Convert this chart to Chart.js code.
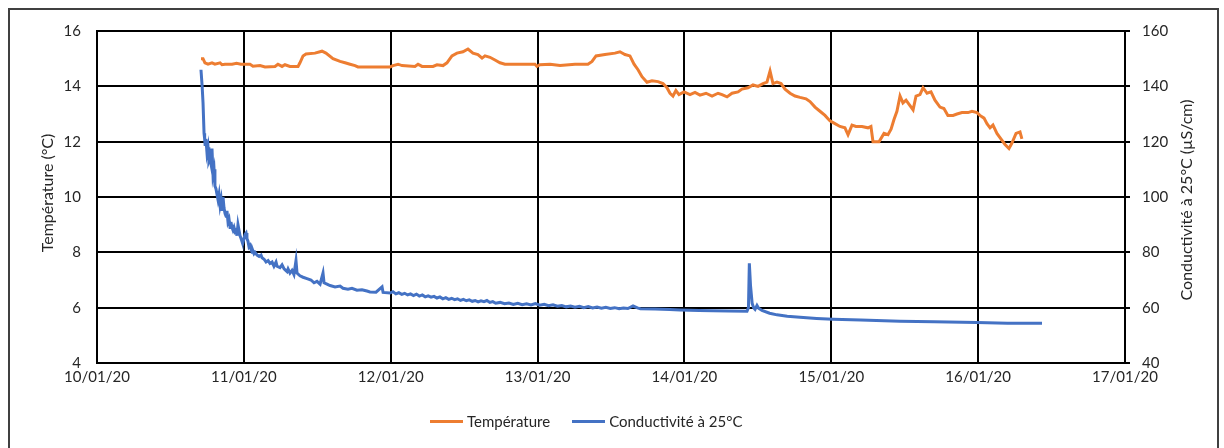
<!DOCTYPE html>
<html>
<head>
<meta charset="utf-8">
<script src="https://cdn.jsdelivr.net/npm/chart.js@4.4.1/dist/chart.umd.min.js"></script>
<style>
  html, body { margin: 0; padding: 0; background: #fff; width: 1224px; height: 448px; overflow: hidden; }
  #frame { position: absolute; left: 8px; top: 8px; width: 1207px; height: 500px; border: 2px solid #404040; box-sizing: content-box; }
  #c { position: absolute; left: 0; top: 0; }
  #legend { position: absolute; top: 412px; left: 430px; display: flex; align-items: center; font-family: Lato, "Open Sans", sans-serif; font-size: 15px; color: #262626; white-space: nowrap; }
  .item { display: flex; align-items: center; margin-right: 22px; }
  .swatch { width: 33px; height: 3px; margin-right: 4px; }
</style>
</head>
<body>
<div id="frame"></div>
<canvas id="c" width="1224" height="448"></canvas>
<div id="legend"></div>
<script>
// ---- data (x in days since 10/01/20) ----
const dateLabels = ['10/01/20','11/01/20','12/01/20','13/01/20','14/01/20','15/01/20','16/01/20','17/01/20'];
const leftTicks = [4, 6, 8, 10, 12, 14, 16];
const rightTicks = [40, 60, 80, 100, 120, 140, 160];

const tempDays = [0.708,0.722,0.735,0.756,0.783,0.803,0.838,0.851,0.872,0.920,0.950,0.980,1.042,1.062,1.110,1.144,1.212,1.232,1.260,1.280,1.314,1.369,1.382,1.403,1.423,1.484,1.532,1.559,1.607,1.655,1.689,1.723,1.757,1.777,1.995,2.016,2.050,2.077,2.165,2.186,2.213,2.288,2.315,2.356,2.383,2.417,2.451,2.492,2.526,2.560,2.594,2.622,2.642,2.676,2.710,2.744,2.778,2.982,2.996,3.016,3.085,3.153,3.255,3.343,3.371,3.398,3.459,3.527,3.561,3.595,3.629,3.657,3.684,3.711,3.745,3.779,3.820,3.854,3.881,3.902,3.922,3.942,3.963,3.997,4.038,4.072,4.106,4.147,4.188,4.229,4.256,4.290,4.324,4.365,4.392,4.433,4.467,4.501,4.535,4.562,4.583,4.603,4.630,4.658,4.685,4.719,4.753,4.787,4.828,4.855,4.889,4.923,4.957,4.991,5.025,5.059,5.093,5.114,5.141,5.168,5.209,5.250,5.270,5.284,5.325,5.359,5.386,5.407,5.427,5.447,5.468,5.488,5.509,5.536,5.557,5.577,5.604,5.625,5.652,5.679,5.706,5.740,5.767,5.794,5.829,5.856,5.890,5.931,5.958,5.992,6.012,6.040,6.060,6.081,6.101,6.128,6.155,6.183,6.210,6.230,6.258,6.285,6.298];
const tempValues = [15.0,15.0,14.85,14.8,14.85,14.8,14.85,14.78,14.8,14.8,14.83,14.8,14.8,14.73,14.75,14.7,14.72,14.8,14.72,14.78,14.72,14.72,14.85,15.1,15.17,15.2,15.27,15.2,15.0,14.9,14.85,14.8,14.75,14.7,14.7,14.75,14.8,14.75,14.72,14.8,14.72,14.72,14.78,14.75,14.85,15.1,15.2,15.25,15.35,15.2,15.15,15.02,15.1,15.05,14.95,14.85,14.8,14.8,14.72,14.78,14.8,14.75,14.8,14.8,14.9,15.1,15.15,15.2,15.25,15.15,15.1,14.8,14.6,14.35,14.15,14.2,14.17,14.1,13.95,13.75,13.65,13.85,13.7,13.8,13.7,13.78,13.68,13.75,13.65,13.75,13.7,13.62,13.75,13.8,13.9,13.95,14.05,14.0,14.1,14.15,14.55,14.1,14.15,14.1,13.9,13.75,13.65,13.6,13.55,13.45,13.25,13.1,12.95,12.75,12.65,12.55,12.5,12.25,12.6,12.55,12.55,12.5,12.55,12.0,12.0,12.3,12.25,12.45,12.8,13.1,13.65,13.4,13.5,13.3,13.15,13.65,13.7,13.95,13.75,13.8,13.5,13.25,13.2,12.95,12.95,13.0,13.05,13.05,13.1,13.05,12.95,12.85,12.65,12.5,12.6,12.3,12.1,11.9,11.75,11.95,12.3,12.35,12.1];

const condDays = [0.708,0.716,0.722,0.729,0.733,0.736,0.742,0.749,0.756,0.762,0.769,0.776,0.783,0.790,0.797,0.803,0.810,0.817,0.824,0.831,0.838,0.845,0.851,0.858,0.865,0.872,0.879,0.885,0.892,0.899,0.906,0.912,0.919,0.926,0.933,0.940,0.947,0.953,0.960,0.967,0.974,0.981,0.987,0.994,1.001,1.008,1.015,1.021,1.028,1.035,1.042,1.049,1.056,1.062,1.069,1.076,1.090,1.104,1.117,1.124,1.138,1.151,1.165,1.178,1.192,1.205,1.219,1.226,1.246,1.260,1.274,1.294,1.301,1.314,1.328,1.341,1.355,1.362,1.382,1.403,1.430,1.457,1.478,1.498,1.519,1.539,1.546,1.566,1.587,1.621,1.655,1.675,1.709,1.736,1.770,1.804,1.838,1.859,1.900,1.941,1.948,1.995,2.015,2.035,2.055,2.075,2.095,2.115,2.135,2.155,2.175,2.195,2.215,2.235,2.255,2.275,2.295,2.315,2.335,2.355,2.375,2.395,2.415,2.435,2.455,2.475,2.495,2.515,2.535,2.555,2.575,2.595,2.615,2.635,2.655,2.675,2.695,2.715,2.745,2.775,2.805,2.835,2.865,2.895,2.925,2.955,2.985,3.015,3.045,3.075,3.105,3.135,3.165,3.195,3.225,3.255,3.285,3.315,3.345,3.375,3.405,3.435,3.465,3.495,3.525,3.555,3.585,3.615,3.650,3.680,3.700,3.800,3.900,3.970,4.100,4.195,4.300,4.426,4.436,4.442,4.450,4.461,4.471,4.481,4.494,4.505,4.528,4.580,4.630,4.700,4.787,4.900,5.012,5.200,5.468,5.700,5.992,6.200,6.435];
const condValues = [146,140,134,123,121,119,121,116,118,113,114,112,117.5,108,110,104,103,101,99,101,97,99,95,100,96,94,93,95,91,92,89,91,89,88,89,87.5,88,86,90,88,86,85,84,83.5,85,86.5,87,85,84,82,82.5,81,80,80.5,79.5,80,79,78.5,79,78,77.5,76.5,77,76,76.5,75,76.5,75,74.5,75.5,74,73,74,72.5,73.5,72,77,72.5,71.5,71,70.5,70,69,69.5,68.5,72.5,69,68.5,68,67.5,67.8,67,66.7,67,66.3,66.5,66,65.7,65.6,67.5,65.5,65.3,65.8,65.0,65.4,64.8,65.2,64.6,65.0,64.4,64.9,64.2,64.6,63.9,64.3,63.8,64.1,63.5,63.9,63.2,63.6,63.0,63.4,62.9,63.2,62.6,63.0,62.5,62.8,62.3,62.6,62.1,62.5,62.2,62.6,61.9,62.2,61.6,61.9,61.4,61.7,61.2,61.6,61.1,61.4,61.0,61.5,60.9,61.2,60.7,61.0,60.5,60.8,60.3,60.6,60.2,60.5,60.0,60.4,59.9,60.2,59.8,60.1,59.7,60.0,59.6,59.9,59.7,60.6,59.9,59.6,59.5,59.3,59.2,59,58.9,58.8,58.7,60,76,68,61.6,60,59.4,60.8,59.8,59,58,57.4,56.9,56.5,56.1,55.8,55.5,55.1,54.9,54.6,54.4,54.4];

const seriesNames = ['Température', 'Conductivité à 25°C'];
const seriesColors = ['#ED7D31', '#4472C4'];
const leftTitle = 'Température (°C)';
const rightTitle = 'Conductivité à 25°C (µS/cm)';

// ---- chart ----
const FONT = 'Lato, "Open Sans", sans-serif';
const TXT = '#262626';
const toPts = (xs, ys) => xs.map((x, i) => ({ x: x, y: ys[i] }));

const titlesPlugin = {
  id: 'titles',
  afterDraw(chart) {
    const ctx = chart.ctx, a = chart.chartArea;
    const cy = (a.top + a.bottom) / 2;
    ctx.save();
    ctx.fillStyle = TXT;
    ctx.font = '16px ' + FONT;
    ctx.textAlign = 'center';
    ctx.textBaseline = 'middle';
    ctx.translate(48, cy - 4);
    ctx.rotate(-Math.PI / 2);
    ctx.fillText(leftTitle, 0, 0);
    ctx.restore();
    ctx.save();
    ctx.fillStyle = TXT;
    ctx.font = '16px ' + FONT;
    ctx.textAlign = 'center';
    ctx.textBaseline = 'middle';
    ctx.translate(1187, cy + 3);
    ctx.rotate(-Math.PI / 2);
    ctx.fillText(rightTitle, 0, 0);
    ctx.restore();
  }
};

new Chart(document.getElementById('c'), {
  type: 'line',
  data: {
    datasets: [
      { label: seriesNames[0], data: toPts(tempDays, tempValues), yAxisID: 'y', borderColor: seriesColors[0], backgroundColor: seriesColors[0], borderWidth: 3, pointRadius: 0, tension: 0 },
      { label: seriesNames[1], data: toPts(condDays, condValues), yAxisID: 'y2', borderColor: seriesColors[1], backgroundColor: seriesColors[1], borderWidth: 3, pointRadius: 0, tension: 0 }
    ]
  },
  options: {
    responsive: false,
    devicePixelRatio: 1,
    animation: false,
    layout: { padding: { left: 0, right: 0, top: 31, bottom: 0 } },
    plugins: { legend: { display: false }, tooltip: { enabled: false } },
    scales: {
      x: {
        type: 'linear', min: 0, max: 7,
        afterBuildTicks: s => { s.ticks = dateLabels.map((_, i) => ({ value: i })); },
        afterFit: s => { s.height = 85; },
        ticks: { callback: v => dateLabels[Math.round(v)], font: { family: FONT, size: 15 }, color: TXT, padding: 5, maxRotation: 0, autoSkip: false },
        grid: { color: '#000', lineWidth: 2, drawTicks: false },
        border: { display: true, color: '#000', width: 2 }
      },
      y: {
        position: 'left', min: 4, max: 16,
        afterBuildTicks: s => { s.ticks = leftTicks.map(v => ({ value: v })); },
        afterFit: s => { s.width = 97; },
        ticks: { font: { family: FONT, size: 15 }, color: TXT, padding: 16 },
        grid: { color: '#000', lineWidth: 2, drawTicks: false },
        border: { display: true, color: '#000', width: 2 }
      },
      y2: {
        position: 'right', min: 40, max: 160,
        afterBuildTicks: s => { s.ticks = rightTicks.map(v => ({ value: v })); },
        afterFit: s => { s.width = 99; },
        ticks: { font: { family: FONT, size: 15 }, color: TXT, padding: 12 },
        grid: { drawOnChartArea: false, color: '#000', lineWidth: 2, drawTicks: true, tickLength: 5 },
        border: { display: true, color: '#000', width: 2 }
      }
    }
  },
  plugins: [titlesPlugin]
});

// ---- legend (HTML) ----
const lg = document.getElementById('legend');
seriesNames.forEach((n, i) => {
  const it = document.createElement('div'); it.className = 'item';
  const sw = document.createElement('div'); sw.className = 'swatch'; sw.style.background = seriesColors[i];
  const tx = document.createElement('span'); tx.textContent = n;
  it.appendChild(sw); it.appendChild(tx); lg.appendChild(it);
});
</script>
</body>
</html>
